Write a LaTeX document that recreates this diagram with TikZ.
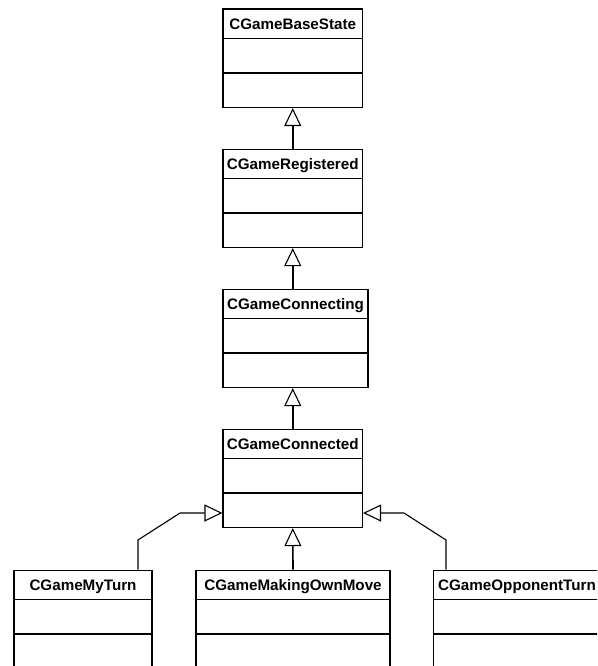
\documentclass[tikz,border=0pt]{standalone}
\usepackage{fontspec}
\setmainfont{Liberation Sans}
\usetikzlibrary{arrows.meta}

% One UML class: name, centre x, top y, width, height, title
\newcommand\umlbox[6]{%
  \node[classbox,minimum width=#4pt,minimum height=#5pt] (#1) at (#2,#3) {};
  \node[classtitle] (#1-t) at ([yshift=-21pt]#1.north) {#6};
  \draw[sep] ([yshift=-30pt]#1.north west) -- ([yshift=-30pt]#1.north east);
  \draw[sep] ([yshift=-64.5pt]#1.north west) -- ([yshift=-64.5pt]#1.north east);
}

\begin{document}
\begin{tikzpicture}[x=1pt,y=-1pt,
  classbox/.style={draw,line width=1.1pt,fill=white,inner sep=0pt,anchor=north},
  classtitle/.style={font=\bfseries\fontsize{15.2}{18}\selectfont,anchor=base,inner sep=0pt},
  sep/.style={line width=1.8pt},
  inh/.style={line width=1.6pt,-{Triangle[open,length=18pt,width=17pt,line width=1.1pt,fill=white]}},
  inhbent/.style={inh,line width=1.1pt},
]
\useasboundingbox (0,0) rectangle (597,666);
\clip (0,0) rectangle (597,666);

% inheritance chain
\umlbox{base}{292.75}{8.5}{139.5}{98.5}{CGameBaseState}
\umlbox{reg}{292.75}{148.5}{139.5}{98.5}{CGameRegistered}
\umlbox{cing}{295.5}{288.5}{145}{98.5}{CGameConnecting}
\umlbox{conn}{292.75}{428.5}{139.5}{98.5}{CGameConnected}

% leaf states
\umlbox{my}{83}{569.5}{138}{140}{CGameMyTurn}
\umlbox{make}{293}{569.5}{194}{140}{CGameMakingOwnMove}
\umlbox{opp}{517}{569.5}{167}{140}{CGameOpponentTurn}

% generalisation arrows
\draw[inh] (reg.north) -- (base.south);
\draw[inh] (cing.north -| reg.south) -- (reg.south);
\draw[inh] (conn.north) -- (conn.north |- cing.south);
\draw[inh] (make.north) -- (conn.south);

\coordinate (mya) at (138,540);
\coordinate (myb) at (180,513);
\draw[inhbent] (my.north -| mya) -- (mya) -- (myb) -- (conn.west |- myb);

\coordinate (oppa) at (446,540);
\coordinate (oppb) at (404,513);
\draw[inhbent] (opp.north -| oppa) -- (oppa) -- (oppb) -- (conn.east |- oppb);
\end{tikzpicture}
\end{document}
